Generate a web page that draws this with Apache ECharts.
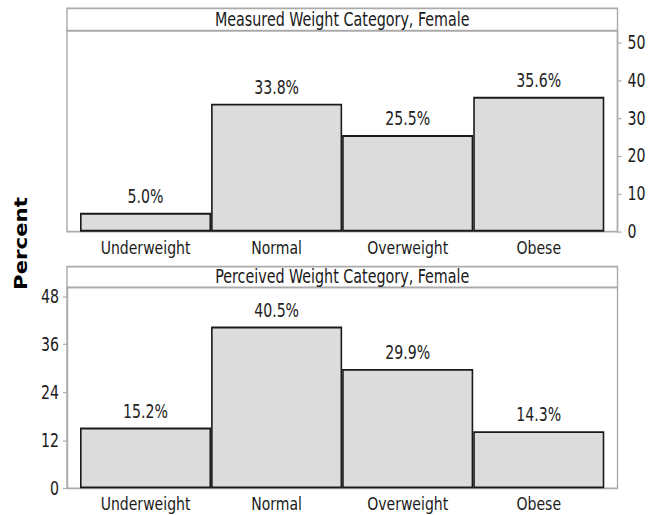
<!DOCTYPE html>
<html><head><meta charset="utf-8">
<script src="https://cdn.jsdelivr.net/npm/echarts@6/dist/echarts.min.js"></script>
<style>html,body{margin:0;padding:0;background:#fff;overflow:hidden}#wrap{width:664px;height:515px;overflow:hidden}#c{width:664px;height:436px;transform-origin:0 0}</style>
</head><body><div id="wrap"><div id="c"></div></div>
<script>
// ---- data ----
const categories = ['Underweight', 'Normal', 'Overweight', 'Obese'];
const measuredValues = [5.0, 33.8, 25.5, 35.6];
const perceivedValues = [15.2, 40.5, 29.9, 14.3];
const measuredTicks = [0, 10, 20, 30, 40, 50];
const perceivedTicks = [0, 12, 24, 36, 48];
const measuredTitle = 'Measured Weight Category, Female';
const perceivedTitle = 'Perceived Weight Category, Female';
const yTitle = 'Percent';

// ---- vertical stretch (reference picture is taller than wide in its text) ----
const S = 515 / 436;
document.getElementById('c').style.transform = 'scaleY(' + S + ')';

// ---- font selection ----
const mctx = document.createElement('canvas').getContext('2d');
function hasFont(name) {
  const s = 'Underweight Category 0123456789';
  for (const base of ['monospace', 'serif']) {
    mctx.font = '72px ' + base; const a = mctx.measureText(s).width;
    mctx.font = '72px "' + name + '", ' + base; const b = mctx.measureText(s).width;
    if (Math.abs(a - b) > 0.5) return true;
  }
  return false;
}
let fam = '"Noto Sans", sans-serif';
for (const f of ['Liberation Sans Narrow', 'DejaVu Sans Condensed', 'Noto Sans']) {
  if (hasFont(f)) { fam = '"' + f + '", sans-serif'; break; }
}
function fit(t, target, family, weight) {
  mctx.font = (weight || 'normal') + ' 100px ' + family;
  return Math.round(1000 * target / mctx.measureText(t).width) / 10;
}
const titleSize = fit(measuredTitle, 254, fam);
const catSize = fit('Underweight', 90, fam);
const valSize = fit('33.8%', 45, fam);
const tickSize = fit('50', 18, fam);
const pctFam = '"DejaVu Sans", sans-serif';
const pctSize = fit(yTitle, 93 / S, pctFam, 'bold');

// ---- layout (reference pixels, converted to unstretched space) ----
const boxL = 67, boxR = 617.5, barL = 80, barR = 604.3;
const P1 = { hdr: 8.3 / S, top: 30.7 / S, bot: 231.7 / S, max: 53.07 };
const P2 = { hdr: 266.7 / S, top: 287.3 / S, bot: 488.3 / S, max: 50.35 };
const gray = '#aaaaaa', ink = '#1a1a1a';

function frameGrid(p) { return { left: boxL, top: p.top, width: boxR - boxL, height: p.bot - p.top, show: true, borderColor: gray, borderWidth: 1.4, backgroundColor: 'transparent' }; }
function barGrid(p) { return { left: barL, top: p.top, width: barR - barL, height: p.bot - p.top }; }
function hiddenX(i) { return { gridIndex: i, type: 'value', show: false, min: 0, max: 1 }; }
function catX(i) {
  return { gridIndex: i, type: 'category', data: categories, boundaryGap: true,
    axisLine: { show: false }, axisTick: { show: false }, splitLine: { show: false },
    axisLabel: { margin: 5, color: ink, fontFamily: fam, fontSize: catSize, interval: 0 } };
}
function visY(i, p, ticks, pos, margin) {
  return { gridIndex: i, type: 'value', position: pos, min: 0, max: p.max,
    axisLine: { show: true, onZero: false, lineStyle: { color: gray, width: 1.4 } },
    axisTick: { show: true, length: 4, customValues: ticks, lineStyle: { color: gray, width: 1 } },
    axisLabel: { customValues: ticks, margin: margin, color: ink, fontFamily: fam, fontSize: tickSize },
    splitLine: { show: false } };
}
function hidY(i, p) { return { gridIndex: i, type: 'value', show: false, min: 0, max: p.max, splitLine: { show: false } }; }
function barSeries(xi, yi, vals) {
  return { type: 'bar', xAxisIndex: xi, yAxisIndex: yi, data: vals, barCategoryGap: '0%',
    itemStyle: { color: '#dcdcdc', borderColor: ink, borderWidth: 1.6 },
    label: { show: true, position: 'top', distance: 6, color: '#222', fontFamily: fam, fontSize: valSize,
      formatter: q => q.value.toFixed(1) + '%' },
    emphasis: { disabled: true }, animation: false };
}
function header(p, text) {
  return [
    { type: 'rect', shape: { x: boxL, y: p.hdr, width: boxR - boxL, height: p.top - p.hdr },
      style: { fill: '#fff', stroke: gray, lineWidth: 1.4 } },
    { type: 'text', x: (boxL + boxR) / 2, y: (p.hdr + p.top) / 2,
      style: { text: text, fill: ink, font: 'normal ' + titleSize + 'px ' + fam, align: 'center', verticalAlign: 'middle' } }
  ];
}

const chart = echarts.init(document.getElementById('c'), null, { renderer: 'svg' });
chart.setOption({
  animation: false,
  backgroundColor: '#fff',
  grid: [frameGrid(P1), barGrid(P1), frameGrid(P2), barGrid(P2)],
  xAxis: [hiddenX(0), catX(1), hiddenX(2), catX(3)],
  yAxis: [visY(0, P1, measuredTicks, 'right', 10), hidY(1, P1), visY(2, P2, perceivedTicks, 'left', 8), hidY(3, P2)],
  series: [barSeries(1, 1, measuredValues), barSeries(3, 3, perceivedValues)],
  graphic: [
    ...header(P1, measuredTitle),
    ...header(P2, perceivedTitle),
    { type: 'text', x: 21.5, y: 243.5 / S, rotation: Math.PI / 2,
      style: { text: yTitle, fill: '#000', font: 'bold ' + pctSize + 'px ' + pctFam, align: 'center', verticalAlign: 'middle' } }
  ]
});
</script>
</body></html>
